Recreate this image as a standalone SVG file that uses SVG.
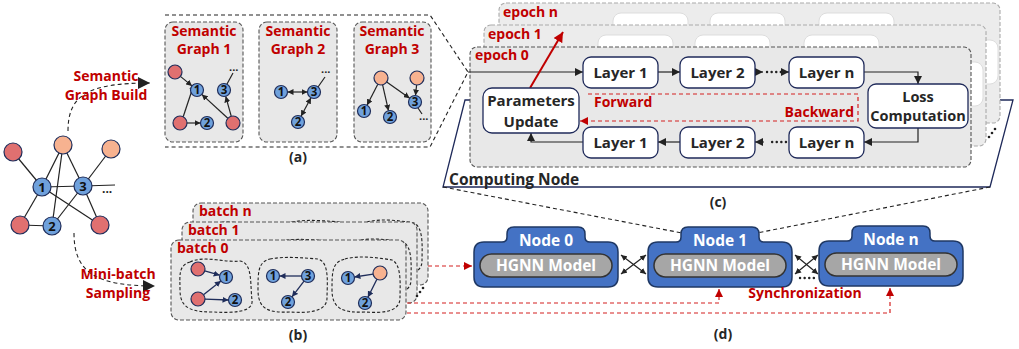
<svg xmlns="http://www.w3.org/2000/svg" width="1019" height="349" viewBox="0 0 1019 349">
<style>
.t{font-family:"Open Sans","Noto Sans",sans-serif;font-weight:700}
.red{fill:#C00000}
.dk{fill:#262626}
.mid{text-anchor:middle}
.gb{fill:#E8E8E8;stroke:#555;stroke-dasharray:4 2;stroke-width:1.1}
.gbb{fill:#ECECEC;stroke:#AAA;stroke-dasharray:4 2;stroke-width:1.1}
.blob{fill:none;stroke:#222;stroke-dasharray:3 2;stroke-width:1.1}
.lay{fill:#fff;stroke:#1F2A5A;stroke-width:1.3}
.ghost{fill:#fff;stroke:#DDD;stroke-width:1}
.nb{fill:#6FA1DC;stroke:#1F2D5A;stroke-width:1.2}
.nr{fill:#E07070;stroke:#1F2D5A;stroke-width:1.2}
.no{fill:#F7B290;stroke:#1F2D5A;stroke-width:1.2}
.e{stroke:#222;stroke-width:1.2;fill:none}
.dots{stroke:#222;stroke-width:2.4;fill:none;stroke-linecap:round;stroke-dasharray:0.1 4.5}
.eb{stroke:#1F2D5A;stroke-width:1.3;fill:none}
.n13{font-size:13px;text-anchor:middle;fill:#111}
.n11{font-size:11.5px;text-anchor:middle;fill:#111}
.dash{stroke:#222;stroke-width:1.1;fill:none;stroke-dasharray:4 3}
.rdash{stroke:#D42020;stroke-width:1.2;fill:none;stroke-dasharray:4 3}
.nshape{fill:#4472C4;stroke:#1F3864;stroke-width:1.5}
.pill{fill:#A6A6A6;stroke:#333;stroke-width:1.5}
</style>
<defs>
<marker id="ah" viewBox="0 0 10 10" refX="10" refY="5" markerWidth="8" markerHeight="8" markerUnits="userSpaceOnUse" orient="auto-start-reverse"><path d="M0,0 L10,5 L0,10 z" fill="#222"/></marker>
<marker id="ahs" viewBox="0 0 10 10" refX="10" refY="5" markerWidth="6" markerHeight="6" markerUnits="userSpaceOnUse" orient="auto-start-reverse"><path d="M0,0 L10,5 L0,10 z" fill="#222"/></marker>
<marker id="ahb" viewBox="0 0 10 10" refX="10" refY="5" markerWidth="6" markerHeight="6" markerUnits="userSpaceOnUse" orient="auto-start-reverse"><path d="M0,0 L10,5 L0,10 z" fill="#1F2D5A"/></marker>
<marker id="ahl" viewBox="0 0 10 10" refX="10" refY="5" markerWidth="12" markerHeight="12" markerUnits="userSpaceOnUse" orient="auto"><path d="M0,0 L10,5 L0,10 z" fill="#222"/></marker>
<marker id="ahr" viewBox="0 0 10 10" refX="10" refY="5" markerWidth="8" markerHeight="8" markerUnits="userSpaceOnUse" orient="auto"><path d="M0,0 L10,5 L0,10 z" fill="#C00000"/></marker>
<marker id="ahr2" viewBox="0 0 10 10" refX="10" refY="5" markerWidth="10" markerHeight="10" markerUnits="userSpaceOnUse" orient="auto"><path d="M0,0 L10,5 L0,10 z" fill="#C00000"/></marker>
</defs>
<rect width="1019" height="349" fill="#fff"/>

<!-- Original graph -->
<g id="orig-graph">
<g class="e">
<line x1="13" y1="152" x2="42" y2="187"/>
<line x1="63" y1="145" x2="42" y2="187"/>
<line x1="63" y1="145" x2="52" y2="226"/>
<line x1="63" y1="145" x2="83" y2="186"/>
<line x1="111" y1="149" x2="83" y2="186"/>
<line x1="42" y1="187" x2="83" y2="186"/>
<line x1="42" y1="187" x2="20" y2="225"/>
<line x1="42" y1="187" x2="100" y2="225"/>
<line x1="83" y1="186" x2="52" y2="226"/>
<line x1="83" y1="186" x2="100" y2="225"/>
<line x1="20" y1="225" x2="52" y2="226"/>
<line x1="83" y1="186" x2="115" y2="185"/>
</g>
<circle class="nr" cx="13" cy="152" r="9"/>
<circle class="no" cx="63" cy="145" r="9"/>
<circle class="no" cx="111" cy="149" r="9"/>
<circle class="nb" cx="42" cy="187" r="9"/>
<circle class="nb" cx="83" cy="186" r="9"/>
<circle class="nr" cx="20" cy="225" r="9"/>
<circle class="nb" cx="52" cy="226" r="9"/>
<circle class="nr" cx="100" cy="225" r="9"/>
<text class="t n13" x="42" y="192">1</text>
<text class="t n13" x="83" y="191">3</text>
<text class="t n13" x="52" y="231">2</text>
<text class="t" x="102" y="193" font-size="12" fill="#222">...</text>
</g>

<!-- Curved arrows with labels -->
<g id="connectors-left">
<path class="dash" d="M68,131 C68,95 88,83 150,83" marker-end="url(#ahl)"/>
<path class="dash" d="M74,233 C74,272 95,286 155,286" marker-end="url(#ahl)"/>
</g>
<g id="label-sgb">
<text class="t red mid" x="106" y="81" font-size="14">Semantic</text>
<text class="t red mid" x="106" y="100" font-size="14">Graph Build</text>
</g>
<g id="label-mbs">
<text class="t red mid" x="118" y="279" font-size="14">Mini-batch</text>
<text class="t red mid" x="118" y="298" font-size="14">Sampling</text>
</g>

<!-- Panel (a) -->
<g id="panel-a">
<path class="dash" d="M165,15 H430 L468,72 L430,147 H165"/>
<g id="sg1">
<rect class="gb" x="165" y="22" width="78" height="120" rx="8"/>
<text class="t red mid" x="204" y="36" font-size="14">Semantic</text>
<text class="t red mid" x="204" y="54" font-size="14">Graph 1</text>
<g class="e" stroke-width="1.1">
<line x1="180.4" y1="76.4" x2="192" y2="85.9" marker-end="url(#ahs)"/>
<line x1="183.2" y1="116.8" x2="194" y2="84.2" marker-end="url(#ahs)"/>
<line x1="187" y1="123" x2="200.5" y2="123" marker-end="url(#ahs)"/>
<line x1="227.8" y1="118.3" x2="201.8" y2="94.4" marker-end="url(#ahs)"/>
<line x1="231.2" y1="116.2" x2="225.7" y2="96.3" marker-end="url(#ahs)"/>
<line x1="227" y1="84" x2="233" y2="73"/>
</g>
<circle class="nr" cx="175" cy="72" r="7"/>
<circle class="nb" cx="197" cy="90" r="6.5"/>
<circle class="nb" cx="224" cy="90" r="6.5"/>
<circle class="nr" cx="180" cy="123" r="7"/>
<circle class="nb" cx="207" cy="123" r="6.5"/>
<circle class="nr" cx="233" cy="123" r="7"/>
<text class="t n11" x="197" y="94">1</text>
<text class="t n11" x="224" y="94">3</text>
<text class="t n11" x="207" y="127">2</text>
<text class="t" x="229" y="71" font-size="11" fill="#222">...</text>
</g>
<g id="sg2">
<rect class="gb" x="259" y="22" width="78" height="120" rx="8"/>
<text class="t red mid" x="298" y="36" font-size="14">Semantic</text>
<text class="t red mid" x="298" y="54" font-size="14">Graph 2</text>
<g class="e" stroke-width="1.1">
<line x1="287.5" y1="92" x2="307.5" y2="92" marker-start="url(#ahs)" marker-end="url(#ahs)"/>
<line x1="311" y1="97.7" x2="301" y2="116.3" marker-start="url(#ahs)" marker-end="url(#ahs)"/>
<line x1="318" y1="87" x2="325" y2="77"/>
</g>
<circle class="nb" cx="281" cy="92" r="6.5"/>
<circle class="nb" cx="314" cy="92" r="6.5"/>
<circle class="nb" cx="298" cy="122" r="6.5"/>
<text class="t n11" x="281" y="96">1</text>
<text class="t n11" x="314" y="96">3</text>
<text class="t n11" x="298" y="126">2</text>
<text class="t" x="321" y="73" font-size="11" fill="#222">...</text>
</g>
<g id="sg3">
<rect class="gb" x="354" y="22" width="77" height="120" rx="8"/>
<text class="t red mid" x="392" y="36" font-size="14">Semantic</text>
<text class="t red mid" x="392" y="54" font-size="14">Graph 3</text>
<g class="e" stroke-width="1.1">
<line x1="377.8" y1="84.2" x2="367" y2="105.2" marker-end="url(#ahs)"/>
<line x1="382.6" y1="84.8" x2="388.5" y2="110.7" marker-end="url(#ahs)"/>
<line x1="386.7" y1="82" x2="409.7" y2="98.2" marker-end="url(#ahs)"/>
<line x1="416.6" y1="85" x2="415.5" y2="95.5" marker-end="url(#ahs)"/>
<line x1="418" y1="108" x2="422" y2="114"/>
</g>
<circle class="no" cx="381" cy="78" r="7"/>
<circle class="no" cx="417" cy="78" r="7"/>
<circle class="nb" cx="364" cy="111" r="6.5"/>
<circle class="nb" cx="390" cy="117" r="6.5"/>
<circle class="nb" cx="415" cy="102" r="6.5"/>
<text class="t n11" x="364" y="115">1</text>
<text class="t n11" x="390" y="121">2</text>
<text class="t n11" x="415" y="106">3</text>
<text class="t" x="419" y="120" font-size="11" fill="#222">...</text>
</g>
<text class="t dk mid" x="298" y="162" font-size="14">(a)</text>
</g>

<!-- Panel (c) -->
<g id="panel-c">
<polygon points="465,100 1013,100 990,187 443,187" fill="#fff" stroke="#1F2A5A" stroke-width="1.3"/>
<text class="t dk" x="449" y="185" font-size="15.5">Computing Node</text>
<g id="epoch-n">
<rect class="gbb" x="499" y="3" width="501" height="120" rx="7"/>
<rect class="ghost" x="613" y="13" width="75" height="31" rx="8"/>
<rect class="ghost" x="710" y="13" width="75" height="31" rx="8"/>
<rect class="ghost" x="819" y="13" width="75" height="31" rx="8"/>
<rect class="ghost" x="898" y="40" width="100" height="44" rx="8"/>
<text class="t red" x="503" y="17" font-size="14">epoch n</text>
</g>
<g id="epoch-1">
<rect class="gbb" x="484" y="25" width="502" height="121" rx="7"/>
<rect class="ghost" x="598" y="35" width="75" height="31" rx="8"/>
<rect class="ghost" x="695" y="35" width="75" height="31" rx="8"/>
<rect class="ghost" x="804" y="35" width="75" height="31" rx="8"/>
<rect class="ghost" x="883" y="62" width="100" height="44" rx="8"/>
<text class="t red" x="488" y="39" font-size="14">epoch 1</text>
</g>
<circle cx="989" cy="137" r="1.3" fill="#222"/>
<circle cx="992" cy="133" r="1.3" fill="#222"/>
<circle cx="995" cy="129" r="1.3" fill="#222"/>
<g id="epoch-0">
<rect class="gb" x="470" y="47" width="501" height="120" rx="7"/>
<text class="t red" x="475" y="60" font-size="14">epoch 0</text>
</g>
<g id="epoch0-connectors">
<path class="e" d="M468,72 H583" marker-end="url(#ah)"/>
<path class="e" d="M658,72 H680" marker-end="url(#ah)"/>
<path class="e" d="M755,72 H763" marker-end="url(#ah)"/>
<path class="dots" d="M767,72 H782"/>
<path class="e" d="M782,72 H789" marker-end="url(#ah)"/>
<path class="e" d="M864,72 H918 V84" marker-end="url(#ah)"/>
<path class="e" d="M918,128 V142 H864" marker-end="url(#ah)"/>
<path class="dots" d="M786,142 H768"/>
<path class="e" d="M764,142 H755" marker-end="url(#ah)"/>
<path class="e" d="M680,142 H658" marker-end="url(#ah)"/>
<path class="e" d="M583,142 H531 V133" marker-end="url(#ah)"/>
<path class="rdash" d="M588,94 H858 V121 H580" marker-end="url(#ahr)"/>
<line x1="530" y1="88" x2="563" y2="32" stroke="#C00000" stroke-width="2" marker-end="url(#ahr2)"/>
</g>
<g id="layer1-f"><rect class="lay" x="583" y="57" width="75" height="31" rx="8"/><text class="t dk mid" x="620.5" y="78" font-size="15">Layer 1</text></g>
<g id="layer2-f"><rect class="lay" x="680" y="57" width="75" height="31" rx="8"/><text class="t dk mid" x="717.5" y="78" font-size="15">Layer 2</text></g>
<g id="layern-f"><rect class="lay" x="789" y="57" width="75" height="31" rx="8"/><text class="t dk mid" x="826.5" y="78" font-size="15">Layer n</text></g>
<g id="loss"><rect class="lay" x="868" y="84" width="100" height="44" rx="8"/><text class="t dk mid" x="918" y="102" font-size="14.5">Loss</text><text class="t dk mid" x="918" y="121" font-size="14.5">Computation</text></g>
<g id="layern-b"><rect class="lay" x="789" y="127" width="75" height="31" rx="8"/><text class="t dk mid" x="826.5" y="148" font-size="15">Layer n</text></g>
<g id="layer2-b"><rect class="lay" x="680" y="127" width="75" height="31" rx="8"/><text class="t dk mid" x="717.5" y="148" font-size="15">Layer 2</text></g>
<g id="layer1-b"><rect class="lay" x="583" y="127" width="75" height="31" rx="8"/><text class="t dk mid" x="620.5" y="148" font-size="15">Layer 1</text></g>
<g id="params"><rect class="lay" x="483" y="88" width="96" height="45" rx="9"/><text class="t dk mid" x="531" y="106" font-size="15">Parameters</text><text class="t dk mid" x="531" y="127" font-size="15">Update</text></g>
<text class="t red" x="594" y="107" font-size="14">Forward</text>
<text class="t red" x="854" y="117" font-size="14" text-anchor="end">Backward</text>
<text class="t dk mid" x="718" y="207" font-size="14">(c)</text>
</g>

<!-- Panel (b) -->
<g id="panel-b">
<g id="batch-n">
<rect class="gb" x="193" y="203" width="235" height="82" rx="8"/>
<g transform="translate(22,-37)">
<path class="blob" d="M190,262 C205,255 225,263 240,261 C253,263 250,285 252,300 C254,313 230,313 214,312 C194,312 180,310 180,290 C180,275 178,266 190,262 Z"/>
<path class="blob" d="M270,259 C285,256 305,258 318,259 C330,262 327,285 327,298 C327,313 305,313 290,312 C270,313 258,310 258,290 C258,272 258,262 270,259 Z"/>
<path class="blob" d="M345,259 C360,255 380,258 392,260 C402,265 400,285 400,298 C400,313 380,313 365,312 C345,313 332,310 332,290 C332,272 332,262 345,259 Z"/>
</g>
<text class="t red" x="199" y="216" font-size="14">batch n</text>
</g>
<g id="batch-1">
<rect class="gb" x="182" y="222" width="235" height="81" rx="8"/>
<g transform="translate(11,-18)">
<path class="blob" d="M190,262 C205,255 225,263 240,261 C253,263 250,285 252,300 C254,313 230,313 214,312 C194,312 180,310 180,290 C180,275 178,266 190,262 Z"/>
<path class="blob" d="M270,259 C285,256 305,258 318,259 C330,262 327,285 327,298 C327,313 305,313 290,312 C270,313 258,310 258,290 C258,272 258,262 270,259 Z"/>
<path class="blob" d="M345,259 C360,255 380,258 392,260 C402,265 400,285 400,298 C400,313 380,313 365,312 C345,313 332,310 332,290 C332,272 332,262 345,259 Z"/>
</g>
<text class="t red" x="188" y="235" font-size="14">batch 1</text>
</g>
<circle cx="417" cy="296" r="1.3" fill="#222"/>
<circle cx="420" cy="292" r="1.3" fill="#222"/>
<circle cx="423" cy="288" r="1.3" fill="#222"/>
<g id="batch-0">
<rect class="gb" x="171" y="240" width="235" height="80" rx="8"/>
<text class="t red" x="177" y="253" font-size="14">batch 0</text>
<path class="blob" d="M190,262 C205,255 225,263 240,261 C253,263 250,285 252,300 C254,313 230,313 214,312 C194,312 180,310 180,290 C180,275 178,266 190,262 Z"/>
<path class="blob" d="M270,259 C285,256 305,258 318,259 C330,262 327,285 327,298 C327,313 305,313 290,312 C270,313 258,310 258,290 C258,272 258,262 270,259 Z"/>
<path class="blob" d="M345,259 C360,255 380,258 392,260 C402,265 400,285 400,298 C400,313 380,313 365,312 C345,313 332,310 332,290 C332,272 332,262 345,259 Z"/>
<g class="eb">
<line x1="204.7" y1="270.9" x2="219.7" y2="275.2" marker-end="url(#ahb)"/>
<line x1="203.5" y1="294.7" x2="220.9" y2="281" marker-end="url(#ahb)"/>
<line x1="205" y1="299.2" x2="228.5" y2="300" marker-end="url(#ahb)"/>
<line x1="301.5" y1="276" x2="279.5" y2="276" marker-end="url(#ahb)"/>
<line x1="304" y1="281.2" x2="292" y2="296.8" marker-end="url(#ahb)"/>
<line x1="373.1" y1="274.1" x2="354.4" y2="277" marker-end="url(#ahb)"/>
<line x1="376.9" y1="279.3" x2="367.9" y2="297.2" marker-end="url(#ahb)"/>
</g>
<circle class="nr" cx="198" cy="269" r="7"/>
<circle class="nb" cx="226" cy="277" r="6.5"/>
<circle class="nr" cx="198" cy="299" r="7"/>
<circle class="nb" cx="235" cy="300" r="6.5"/>
<circle class="nb" cx="273" cy="276" r="6.5"/>
<circle class="nb" cx="308" cy="276" r="6.5"/>
<circle class="nb" cx="288" cy="302" r="6.5"/>
<circle class="no" cx="380" cy="273" r="7"/>
<circle class="nb" cx="348" cy="278" r="6.5"/>
<circle class="nb" cx="365" cy="303" r="6.5"/>
<text class="t n11" x="226" y="281">1</text>
<text class="t n11" x="235" y="304">2</text>
<text class="t n11" x="273" y="280">1</text>
<text class="t n11" x="308" y="280">3</text>
<text class="t n11" x="288" y="306">2</text>
<text class="t n11" x="348" y="282">1</text>
<text class="t n11" x="365" y="307">2</text>
</g>
<text class="t dk mid" x="298" y="340" font-size="14">(b)</text>
</g>

<!-- Panel (d) connectors -->
<g id="connectors">
<line class="dash" x1="443" y1="187" x2="682" y2="233" stroke-width="1"/>
<line class="dash" x1="990" y1="187" x2="757" y2="233" stroke-width="1"/>
<path class="rdash" d="M428,266 H472" marker-end="url(#ahr)"/>
<path class="rdash" d="M407,303 H719 V289" marker-end="url(#ahr)"/>
<path class="rdash" d="M407,313 H890 V288" marker-end="url(#ahr)"/>
<line class="e" x1="621" y1="255" x2="646" y2="274" marker-start="url(#ahs)" marker-end="url(#ahs)"/>
<line class="e" x1="621" y1="274" x2="646" y2="255" marker-start="url(#ahs)" marker-end="url(#ahs)"/>
<line class="e" x1="795" y1="255" x2="818" y2="274" marker-start="url(#ahs)" marker-end="url(#ahs)"/>
<line class="e" x1="795" y1="274" x2="818" y2="255" marker-start="url(#ahs)" marker-end="url(#ahs)"/>
<path class="dots" d="M800,278 H814" stroke-dasharray="0.1 4"/>
</g>

<g id="node0" transform="translate(474,242)">
<path class="nshape" d="M0,10 Q0,0 10,0 H28 Q33,0 33,-5 V-8 Q33,-15 40,-15 H104 Q111,-15 111,-8 V-5 Q111,0 116,0 H134 Q144,0 144,10 V35 Q144,45 134,45 H10 Q0,45 0,35 Z"/>
<rect class="pill" x="6" y="12" width="132" height="23" rx="11.5"/>
<text class="t mid" x="72" y="4" font-size="15.5" fill="#fff">Node 0</text>
<text class="t mid" x="72" y="29" font-size="15.5" fill="#fff">HGNN Model</text>
</g>
<g id="node1" transform="translate(648,242)">
<path class="nshape" d="M0,10 Q0,0 10,0 H28 Q33,0 33,-5 V-8 Q33,-15 40,-15 H104 Q111,-15 111,-8 V-5 Q111,0 116,0 H134 Q144,0 144,10 V35 Q144,45 134,45 H10 Q0,45 0,35 Z"/>
<rect class="pill" x="6" y="12" width="132" height="23" rx="11.5"/>
<text class="t mid" x="72" y="4" font-size="15.5" fill="#fff">Node 1</text>
<text class="t mid" x="72" y="29" font-size="15.5" fill="#fff">HGNN Model</text>
</g>
<g id="noden" transform="translate(819,241)">
<path class="nshape" d="M0,10 Q0,0 10,0 H28 Q33,0 33,-5 V-8 Q33,-15 40,-15 H104 Q111,-15 111,-8 V-5 Q111,0 116,0 H134 Q144,0 144,10 V35 Q144,45 134,45 H10 Q0,45 0,35 Z"/>
<rect class="pill" x="6" y="12" width="132" height="23" rx="11.5"/>
<text class="t mid" x="72" y="4" font-size="15.5" fill="#fff">Node n</text>
<text class="t mid" x="72" y="29" font-size="15.5" fill="#fff">HGNN Model</text>
</g>
<text class="t red mid" x="805" y="298" font-size="14">Synchronization</text>
<text class="t dk mid" x="723" y="339" font-size="14">(d)</text>
</svg>
